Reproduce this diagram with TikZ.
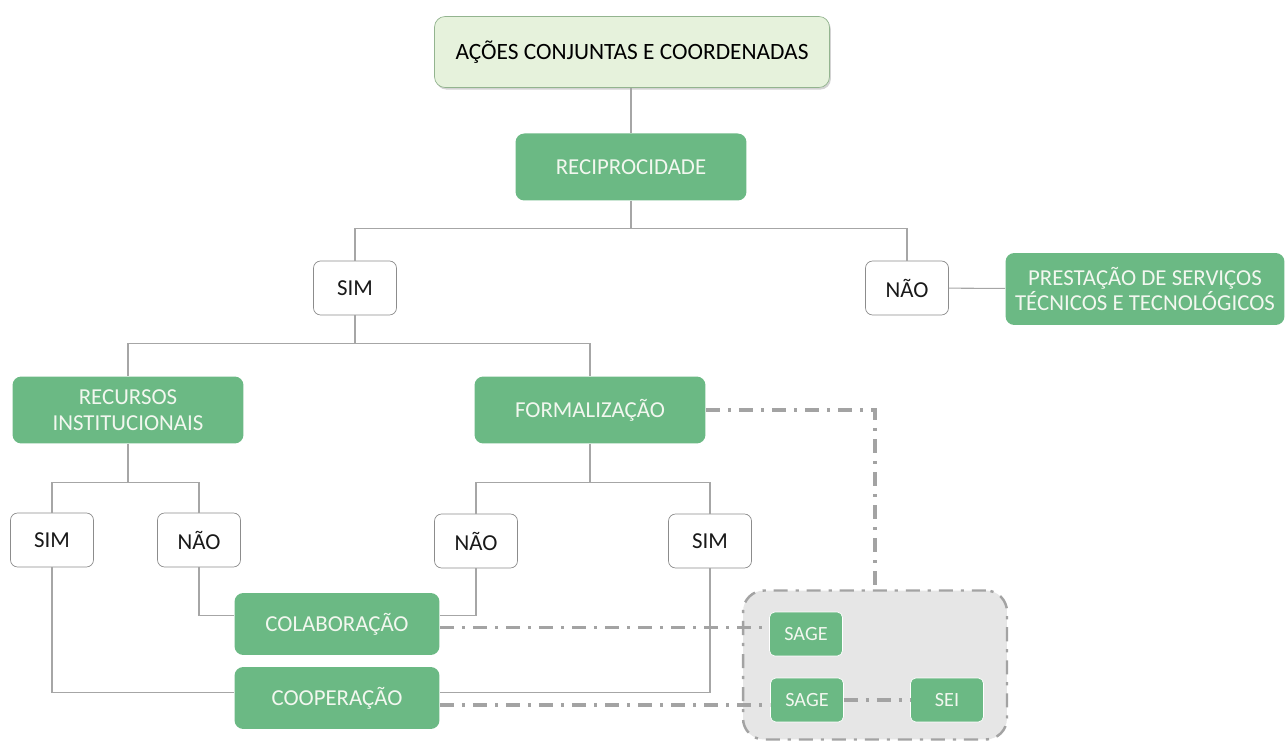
\documentclass[tikz,border=0pt]{standalone}
\usepackage{fontspec}
\setmainfont{Carlito}
\usetikzlibrary{shadows}
\definecolor{boxgreen}{HTML}{6BB984}
\definecolor{palegreen}{HTML}{E6F2DC}
\definecolor{edgegreen}{HTML}{93B48F}
\definecolor{linegray}{HTML}{A6A6A6}
\definecolor{textlight}{HTML}{F2F7EF}
\definecolor{areagray}{HTML}{E6E6E6}
\definecolor{dashgray}{HTML}{A3A3A3}
\begin{document}
\begin{tikzpicture}
  [x=0.02cm,y=-0.02cm,font=\fontsize{13}{15}\selectfont,
   top/.style ={draw=edgegreen,fill=palegreen,rounded corners=6pt,minimum width=7.9cm,minimum height=1.42cm,font=\fontsize{13.3}{16}\selectfont,
                drop shadow={shadow xshift=0.8pt,shadow yshift=-1.2pt,opacity=0.35}},
   green/.style ={fill=boxgreen,text=textlight,rounded corners=5pt,minimum width=4.62cm,minimum height=1.34cm,align=center},
   answer/.style ={draw=black!45,fill=white,rounded corners=4pt,minimum width=1.66cm,minimum height=1.08cm,text=black!90},
   small/.style ={fill=boxgreen,draw=white,text=textlight,rounded corners=3pt,minimum width=1.46cm,minimum height=0.88cm,font=\fontsize{11.5}{13}\selectfont},
   link/.style ={draw=linegray,line width=0.6pt},
   dotlink/.style ={draw=dashgray,line width=1.8pt,dash pattern=on 8pt off 4.5pt on 1.8pt off 4.5pt},
   area/.style ={draw=dashgray,fill=areagray,line width=1.4pt,rounded corners=12pt,dash pattern=on 8pt off 4.5pt on 1.8pt off 4.5pt,minimum width=5.28cm,minimum height=2.98cm}]
  \useasboundingbox (0,0) rectangle (1285,742);

  \node[top] (acoes) at (632,52) {AÇÕES CONJUNTAS E COORDENADAS};
  \node[green] (recip) at (631,167) {RECIPROCIDADE};
  \node[answer] (sim1) at (355,288) {SIM};
  \node[answer] (nao1) at (907,288) {NÃO};
  \node[green,minimum width=5.58cm,minimum height=1.44cm] (prest) at (1145,289) {PRESTAÇÃO DE SERVIÇOS\\[-1pt]TÉCNICOS E TECNOLÓGICOS};
  \node[green] (recur) at (128,410) {RECURSOS\\INSTITUCIONAIS};
  \node[green] (formal) at (590,410) {FORMALIZAÇÃO};
  \node[answer] (sim2) at (52,540) {SIM};
  \node[answer] (nao2) at (199,540) {NÃO};
  \node[answer] (nao3) at (476,541) {NÃO};
  \node[answer] (sim3) at (710,541) {SIM};
  \node[green,minimum width=4.1cm,minimum height=1.24cm] (colab) at (337,624) {COLABORAÇÃO};
  \node[green,minimum width=4.1cm,minimum height=1.24cm] (coop) at (337,698) {COOPERAÇÃO};

  \node[area] (grp) at (875,665) {};
  \node[small] (sage1) at (806,634) {SAGE};
  \node[small] (sage2) at (807,700) {SAGE};
  \node[small] (sei) at (947,700) {SEI};

  % tree
  \draw[link] (acoes.south -| recip) -- (recip);
  \draw[link] (recip.south) -- ++(0,28) -| (sim1.north);
  \draw[link] (recip.south) -- ++(0,28) -| (nao1.north);
  \draw[link] (nao1) -- (prest);
  \draw[link] (sim1.south) -- ++(0,28) -| (recur.north);
  \draw[link] (sim1.south) -- ++(0,28) -| (formal.north);
  \draw[link] (recur.south) -- ++(0,39) -| (sim2.north);
  \draw[link] (recur.south) -- ++(0,39) -| (nao2.north);
  \draw[link] (formal.south) -- ++(0,39) -| (nao3.north);
  \draw[link] (formal.south) -- ++(0,39) -| (sim3.north);
  \draw[link] (nao2.south) |- ([yshift=5pt]colab.west);
  \draw[link] (nao3.south) |- ([yshift=5pt]colab.east);
  \draw[link] (sim2.south) |- ([yshift=3pt]coop.west);
  \draw[link] (sim3.south) |- ([yshift=3pt]coop.east);

  % systems
  \draw[dotlink] (formal.east) -| (grp.north);
  \draw[dotlink] ([yshift=-2pt]colab.east) -- ([yshift=-2pt]colab.east -| sage1.west);
  \draw[dotlink] ([yshift=-4pt]coop.east) -- ([yshift=-4pt]coop.east -| sage2.west);
  \draw[dotlink] (sage2) -- (sei);
\end{tikzpicture}
\end{document}
